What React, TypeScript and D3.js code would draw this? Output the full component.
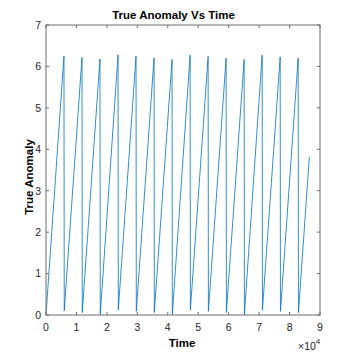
import React from 'react';
import * as d3 from 'd3';

// true anomaly samples (time in s, anomaly in rad)
const times = [
  0, 2950, 5900,
  5990, 8905, 11820,
  11910, 14820, 17730,
  17820, 20740, 23660,
  23750, 26660, 29570,
  29660, 32575, 35490,
  35580, 38490, 41400,
  41490, 44410, 47330,
  47420, 50335, 53250,
  53340, 56250, 59160,
  59250, 62165, 65080,
  65170, 68085, 71000,
  71090, 74005, 76920,
  77010, 79920, 82830,
  82920, 85835, 86500,
];
const anomaly = [
  0, 3.12, 6.25,
  0.10, 3.16, 6.22,
  0.06, 3.12, 6.18,
  0.01, 3.14, 6.28,
  0.12, 3.18, 6.25,
  0.09, 3.15, 6.21,
  0.06, 3.11, 6.17,
  0.01, 3.14, 6.27,
  0.12, 3.18, 6.24,
  0.09, 3.14, 6.2,
  0.06, 3.11, 6.17,
  0.01, 3.14, 6.27,
  0.12, 3.17, 6.23,
  0.09, 3.14, 6.2,
  0.06, 3.12, 3.82,
];
const xTicks = [0, 1, 2, 3, 4, 5, 6, 7, 8, 9];
const yTicks = [0, 1, 2, 3, 4, 5, 6, 7];

const W = 354;
const H = 354;
const left = 46, right = 320, top = 25, bottom = 315;
const font = '"Liberation Sans Narrow", "Liberation Sans", Arial, sans-serif';
const axisColor = '#6e6e6e';
const textColor = '#262626';

export default function App() {
  const x = d3.scaleLinear().domain([0, 90000]).range([left, right]);
  const y = d3.scaleLinear().domain([0, 7]).range([bottom, top]);

  const pts: [number, number][] = times.map((t, i) => [t, anomaly[i]]);
  const line = d3.line<[number, number]>()
    .x(d => x(d[0]))
    .y(d => y(d[1]));

  const tl = 3;

  return (
    <svg width={W} height={H} style={{ position: 'absolute', left: 0, top: 0, background: '#fff' }}>
      <rect x={0} y={0} width={W} height={H} fill="#fff" />
      <path d={line(pts) || ''} fill="none" stroke="#0072BD" strokeWidth={0.8} />

      {/* box */}
      <rect x={left} y={top} width={right - left} height={bottom - top} fill="none" stroke={axisColor} strokeWidth={1} />

      {xTicks.map(t => {
        const px = x(t * 10000);
        return (
          <g key={'x' + t}>
            <line x1={px} x2={px} y1={bottom} y2={bottom - tl} stroke={axisColor} strokeWidth={1} />
            <line x1={px} x2={px} y1={top} y2={top + tl} stroke={axisColor} strokeWidth={1} />
            <text x={px} y={331} textAnchor="middle" fontSize={10.5} fontFamily={font} fill={textColor}>{t}</text>
          </g>
        );
      })}
      {yTicks.map(t => {
        const py = y(t);
        return (
          <g key={'y' + t}>
            <line x1={left} x2={left + tl} y1={py} y2={py} stroke={axisColor} strokeWidth={1} />
            <line x1={right} x2={right - tl} y1={py} y2={py} stroke={axisColor} strokeWidth={1} />
            <text x={41} y={py + 3.8} textAnchor="end" fontSize={10.5} fontFamily={font} fill={textColor}>{t}</text>
          </g>
        );
      })}

      <text x={173.5} y={19} textAnchor="middle" fontSize={11.5} fontWeight="bold" fontFamily={font} fill="#000">True Anomaly Vs Time</text>
      <text x={182} y={347} textAnchor="middle" fontSize={11.5} fontWeight="bold" fontFamily={font} fill="#000">Time</text>
      <text transform={`translate(33,177) rotate(-90)`} textAnchor="middle" fontSize={11.5} fontWeight="bold" fontFamily={font} fill="#000">True Anomaly</text>
      <text x={298} y={350} fontSize={10.5} fontFamily={font} fill={textColor}>
        ×10<tspan dy={-6} fontSize={8}>4</tspan>
      </text>
    </svg>
  );
}
